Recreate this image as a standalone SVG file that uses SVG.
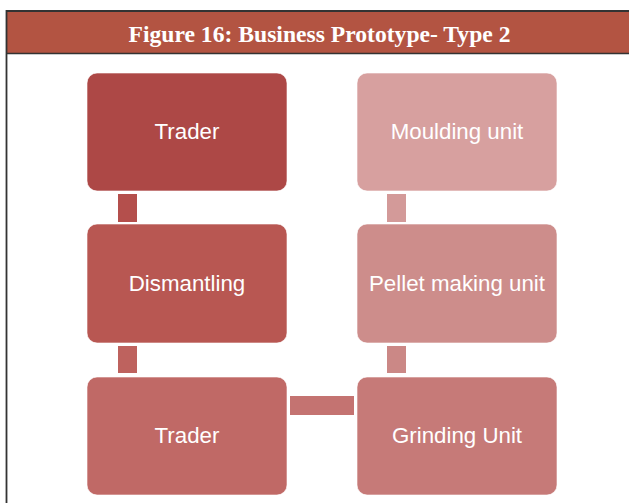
<svg xmlns="http://www.w3.org/2000/svg" width="629" height="503" viewBox="0 0 629 503">
  <style>
    .box { stroke: #ffffff; stroke-opacity: 0.6; stroke-width: 1; }
    .label { font-family: "Liberation Sans", Arial, sans-serif; font-size: 22.3px; fill: #ffffff; text-anchor: middle; }
    .title { font-family: "Liberation Serif", "Times New Roman", serif; font-weight: bold; font-size: 23.5px; fill: #ffffff; text-anchor: middle; }
  </style>
  <rect x="0" y="0" width="629" height="503" fill="#ffffff"/>

  <!-- frame and header band -->
  <g id="frame">
    <rect x="6" y="11" width="630" height="43" fill="#B35442"/>
    <line x1="6" y1="11" x2="629" y2="11" stroke="#333333" stroke-width="2"/>
    <line x1="6" y1="53.5" x2="629" y2="53.5" stroke="#333333" stroke-width="1.6"/>
    <line x1="6.5" y1="10" x2="6.5" y2="503" stroke="#333333" stroke-width="1.8"/>
    <text class="title" x="319.5" y="42.3" textLength="382" lengthAdjust="spacingAndGlyphs">Figure 16: Business Prototype- Type 2</text>
  </g>

  <!-- connectors -->
  <g id="connectors">
    <rect x="118" y="194" width="19" height="28" fill="#B44F4C"/>
    <rect x="118" y="346" width="19" height="27" fill="#BE625E"/>
    <rect x="290" y="396" width="64" height="19" fill="#C47371"/>
    <rect x="387" y="346" width="19" height="27" fill="#CB8886"/>
    <rect x="387" y="194" width="19" height="28" fill="#D39A99"/>
  </g>

  <g id="trader-top">
    <rect class="box" x="87" y="73" width="200" height="118" rx="10" fill="#AD4846"/>
    <text class="label" x="187" y="139">Trader</text>
  </g>
  <g id="dismantling">
    <rect class="box" x="87" y="224" width="200" height="119" rx="10" fill="#B85752"/>
    <text class="label" x="187" y="291">Dismantling</text>
  </g>
  <g id="trader-bottom">
    <rect class="box" x="87" y="377" width="200" height="118" rx="10" fill="#C06966"/>
    <text class="label" x="187" y="443">Trader</text>
  </g>
  <g id="grinding-unit">
    <rect class="box" x="357" y="377" width="200" height="118" rx="10" fill="#C67A78"/>
    <text class="label" x="457" y="443">Grinding Unit</text>
  </g>
  <g id="pellet-making-unit">
    <rect class="box" x="357" y="224" width="200" height="119" rx="10" fill="#CD8D8B"/>
    <text class="label" x="457" y="291">Pellet making unit</text>
  </g>
  <g id="moulding-unit">
    <rect class="box" x="357" y="73" width="200" height="118" rx="10" fill="#D7A09F"/>
    <text class="label" x="457" y="139">Moulding unit</text>
  </g>
</svg>
